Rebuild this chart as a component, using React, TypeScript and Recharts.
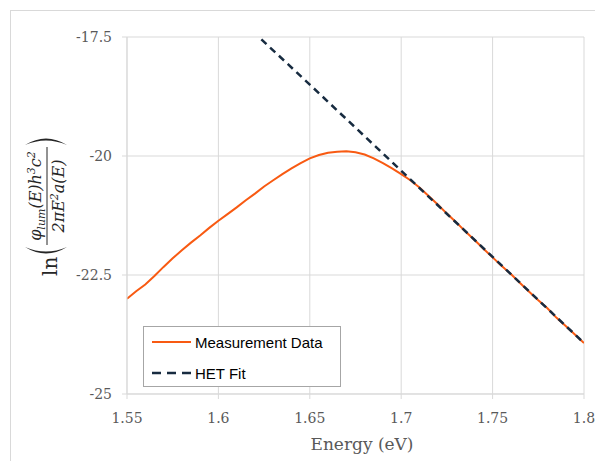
import { LineChart, Line, XAxis, YAxis, CartesianGrid, Legend } from 'recharts';

// photon energy (eV) of the measured spectrum
const energy = [
  1.55, 1.555, 1.56, 1.565, 1.57, 1.575, 1.58, 1.585, 1.59, 1.595,
  1.6, 1.605, 1.61, 1.615, 1.62, 1.625, 1.63, 1.635, 1.64, 1.645,
  1.65, 1.655, 1.66, 1.665, 1.67, 1.675, 1.68, 1.685, 1.69, 1.695,
  1.7, 1.705, 1.71, 1.715, 1.72, 1.725, 1.73, 1.735, 1.74, 1.745,
  1.75, 1.755, 1.76, 1.765, 1.77, 1.775, 1.78, 1.785, 1.79, 1.795, 1.8,
];
const measured = [
  -23.0, -22.84, -22.7, -22.52, -22.33, -22.15, -21.98, -21.82, -21.67, -21.51,
  -21.36, -21.22, -21.08, -20.93, -20.79, -20.64, -20.51, -20.38, -20.26, -20.15,
  -20.05, -19.98, -19.93, -19.91, -19.9, -19.92, -19.97, -20.05, -20.15, -20.26,
  -20.38, -20.51, -20.66, -20.84, -21.02, -21.21, -21.39, -21.58, -21.76, -21.95,
  -22.13, -22.31, -22.48, -22.67, -22.85, -23.03, -23.2, -23.4, -23.57, -23.75, -23.93,
];

// HET fit line
const fitEnergy = [1.6235, 1.65, 1.7, 1.75, 1.8];
const fitValue = [-17.55, -18.5, -20.31, -22.12, -23.93];

const xTicks = [1.55, 1.6, 1.65, 1.7, 1.75, 1.8];
const yTicks = [-25, -22.5, -20, -17.5];

const measuredData = energy.map((e, i) => ({ e, v: measured[i] }));
const fitData = fitEnergy.map((e, i) => ({ e, v: fitValue[i] }));

const tickStyle = { fontFamily: 'DejaVu Serif', fontSize: 14, fill: '#595959' };

const YLabel = () => (
  <g transform="translate(47,204) rotate(-90)" fill="#262626" fontFamily="DejaVu Serif">
    <text x={-72} y={10} fontSize={20}>ln</text>
    <path d="M -43 -22 Q -56 -1 -43 20 Q -52 -1 -43 -22 Z" />
    <path d="M 59 -22 Q 72 -1 59 20 Q 68 -1 59 -22 Z" />
    <text x={8} y={-6} fontSize={16} fontStyle="italic" textAnchor="middle">
      φ<tspan fontSize={11} dy={4}>lum</tspan>
      <tspan dy={-4}>(E)h</tspan>
      <tspan fontSize={11} dy={-6}>3</tspan>
      <tspan dy={6}>c</tspan>
      <tspan fontSize={11} dy={-6}>2</tspan>
    </text>
    <line x1={-41} x2={57} y1={0} y2={0} stroke="#262626" strokeWidth={1} />
    <text x={8} y={17} fontSize={16} fontStyle="italic" textAnchor="middle">
      2πE<tspan fontSize={11} dy={-6}>2</tspan>
      <tspan dy={6}>a(E)</tspan>
    </text>
  </g>
);

const XLabel = () => (
  <text x={362} y={450} textAnchor="middle" fontFamily="DejaVu Serif" fontSize={17} fill="#595959">
    Energy (eV)
  </text>
);

const LegendBox = () => (
  <div
    style={{
      width: 196,
      height: 59,
      border: '1px solid #a6a6a6',
      background: '#fff',
      position: 'relative',
    }}
  >
    <svg width={196} height={59} style={{ position: 'absolute', left: 0, top: 0 }}>
      <line x1={8} x2={47} y1={15} y2={15} stroke="#f85a12" strokeWidth={2} />
      <line x1={8} x2={47} y1={46} y2={46} stroke="#172b40" strokeWidth={2.5} strokeDasharray="9 6" />
      <text x={51} y={20.5} fontFamily="Liberation Sans" fontSize={15} fill="#000">Measurement Data</text>
      <text x={51} y={51.5} fontFamily="Liberation Sans" fontSize={15} fill="#000">HET Fit</text>
    </svg>
  </div>
);

export default function App() {
  return (
    <div style={{ position: 'absolute', left: 0, top: 0, width: 595, height: 461, background: '#fff' }}>
      <div
        style={{
          position: 'absolute',
          left: 10,
          top: 10,
          width: 585,
          height: 451,
          borderLeft: '1px solid #d9d9d9',
          borderTop: '1px solid #d9d9d9',
        }}
      />
      <div style={{ position: 'absolute', left: 0, top: 0 }}>
        <LineChart width={595} height={461} margin={{ top: 37, right: 11, bottom: 0, left: 0 }}>
          <CartesianGrid stroke="#d9d9d9" strokeWidth={1} />
          <XAxis
            type="number"
            dataKey="e"
            domain={[1.55, 1.8]}
            ticks={xTicks}
            allowDataOverflow
            height={67}
            stroke="#d9d9d9"
            tickSize={5}
            tickMargin={14}
            tick={tickStyle}
            label={{ content: () => <XLabel /> }}
          />
          <YAxis
            type="number"
            dataKey="v"
            domain={[-25, -17.5]}
            ticks={yTicks}
            allowDataOverflow
            width={127}
            stroke="#d9d9d9"
            tickSize={5}
            tickMargin={10}
            tick={tickStyle}
            label={{ content: () => <YLabel /> }}
          />
          <Line
            data={measuredData}
            dataKey="v"
            name="Measurement Data"
            type="linear"
            stroke="#f85a12"
            strokeWidth={2}
            dot={false}
            isAnimationActive={false}
          />
          <Line
            data={fitData}
            dataKey="v"
            name="HET Fit"
            type="linear"
            stroke="#172b40"
            strokeWidth={2.5}
            strokeDasharray="7 5"
            dot={false}
            isAnimationActive={false}
          />
          <Legend
            layout="horizontal"
            verticalAlign="middle"
            align="center"
            content={() => <LegendBox />}
            wrapperStyle={{ left: 143, top: 326, width: 198, height: 61, bottom: 'auto' }}
          />
        </LineChart>
      </div>
    </div>
  );
}
